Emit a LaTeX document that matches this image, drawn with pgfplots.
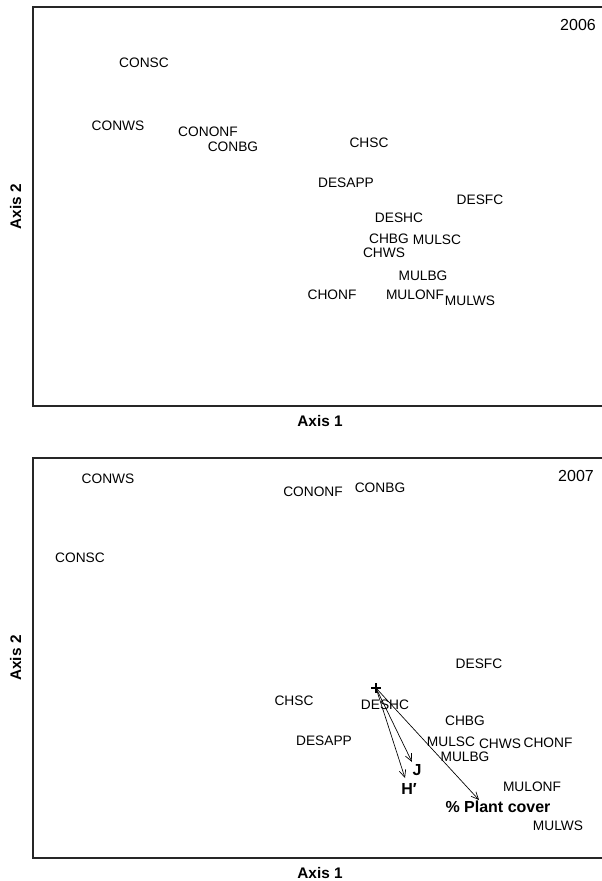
\documentclass[border=0pt]{standalone}
\usepackage{pgfplots}
\pgfplotsset{compat=1.18}
\usepackage{pgfplotstable}
\usepackage{fontspec}
\setmainfont{Liberation Sans}
\usetikzlibrary{arrows.meta}

\pgfplotstableread{
x y label
144 63 CONSC
118 126 CONWS
208 132 CONONF
233 147 CONBG
369 143 CHSC
346 183 DESAPP
480 200 DESFC
399 218 DESHC
389 239 CHBG
437 240 MULSC
384 253 CHWS
423 276 MULBG
332 295 CHONF
415 295 MULONF
470 301 MULWS
}\sitesA

\pgfplotstableread{
x y label
108 479 CONWS
313 492 CONONF
380 488 CONBG
80 558 CONSC
479 664 DESFC
294 701 CHSC
385 705 DESHC
465 721 CHBG
324 741 DESAPP
451 742 MULSC
500 744 CHWS
548 743 CHONF
465 757 MULBG
532 787 MULONF
558 826 MULWS
}\sitesB

\pgfplotstableread{
x y label
409 789 H′
417 770 J
498 807 {\% Plant cover}
}\vecB

\pgfplotsset{
  ordax/.style={
    scale only axis, width=430.5pt,
    xmin=33, xmax=607, y dir=reverse,
    ticks=none, clip=false,
    axis line style={line width=1pt, black!85},
    every axis x label/.style={at={(axis description cs:0.5,0)}, anchor=north, yshift=-7pt, inner sep=0pt, font=\fontsize{11.5}{13}\selectfont\bfseries},
    every axis y label/.style={at={(axis description cs:-0.02,0.5)}, anchor=south, rotate=90, inner sep=0pt, font=\fontsize{11.5}{13}\selectfont\bfseries},
    xlabel={Axis 1}, ylabel={Axis 2},
  },
  lbl/.style={draw=none, mark=none, nodes near coords, point meta=explicit symbolic,
    nodes near coords align={center},
    every node near coord/.append style={inner sep=0pt, font=\fontsize{10.3}{12}\selectfont}},
  blbl/.style={draw=none, mark=none, nodes near coords, point meta=explicit symbolic,
    nodes near coords align={center},
    every node near coord/.append style={inner sep=0pt, font=\fontsize{12}{14}\selectfont\bfseries}},
  yr/.style={draw=none, mark=none, nodes near coords, point meta=explicit symbolic,
    nodes near coords align={center},
    every node near coord/.append style={inner sep=0pt, font=\fontsize{12}{14}\selectfont}},
  vec/.style={-{Straight Barb[length=5.5pt,width=5pt]}, line width=0.5pt, black, mark=none},
}

\begin{document}
\begin{tikzpicture}
\begin{axis}[ordax, at={(24.75pt,-5.25pt)}, anchor=north west, height=299.25pt, ymin=7, ymax=406]
\addplot[lbl] table[x=x, y=y, meta=label] {\sitesA};
\addplot[yr] table[meta=label] {
x y label
578 25 2006
};
\end{axis}

\begin{axis}[ordax, at={(24.75pt,-343.5pt)}, anchor=north west, height=300pt, ymin=458, ymax=858]
\addplot[lbl] table[x=x, y=y, meta=label] {\sitesB};
\addplot[yr] table[meta=label] {
x y label
576 476 2007
};
\addplot[vec] coordinates {(376,688) (405,778)};
\addplot[vec] coordinates {(376,688) (412,762)};
\addplot[vec] coordinates {(376,688) (479,800)};
\addplot[only marks, mark=+, mark size=3.5pt, line width=0.8pt, black] coordinates {(376,688)};
\addplot[blbl] table[x=x, y=y, meta=label] {\vecB};
\end{axis}

\pgfresetboundingbox
\path[use as bounding box] (0pt,0pt) rectangle (450.75pt,-660.75pt);
\end{tikzpicture}
\end{document}
